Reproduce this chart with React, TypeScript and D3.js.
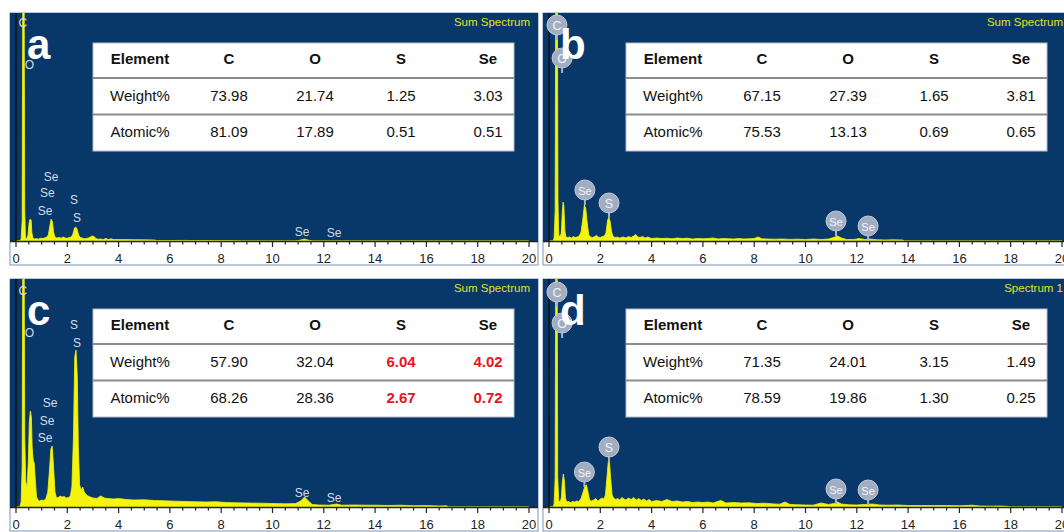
import React from "react";
import * as d3 from "d3";

// EDS spectra: [energy keV, counts]
const spectrumA: [number, number][] = [
  [0, 0], [0.15, 0], [0.2, 20], [0.24, 200], [0.27, 3200], [0.31, 3200], [0.34, 300], [0.37, 30], [0.42, 25],
  [0.47, 60], [0.51, 180], [0.55, 220], [0.59, 210], [0.62, 80], [0.66, 30], [0.72, 20], [0.8, 25], [0.88, 18],
  [0.95, 28], [1.02, 25], [1.1, 30], [1.18, 35], [1.26, 60], [1.32, 150], [1.37, 220], [1.42, 190], [1.47, 80],
  [1.53, 35], [1.6, 30], [1.68, 35], [1.76, 28], [1.84, 40], [1.92, 30], [2.0, 28], [2.08, 35], [2.16, 40],
  [2.22, 70], [2.28, 130], [2.33, 140], [2.38, 120], [2.44, 60], [2.5, 35], [2.58, 30], [2.66, 22], [2.74, 25],
  [2.82, 30], [2.9, 40], [2.97, 50], [3.04, 45], [3.12, 25], [3.2, 18], [3.3, 20], [3.4, 15], [3.5, 25], [3.6, 15],
  [3.7, 22], [3.8, 15], [3.9, 14], [4.2, 14], [4.6, 13], [5.0, 12], [5.4, 10], [5.5, 4], [6, 5], [6.5, 6], [7, 4],
  [7.5, 5], [8, 4], [8.6, 3], [8.8, 0], [10.9, 0], [11.1, 10], [11.25, 20], [11.4, 8], [11.6, 0], [20, 0],
];

const spectrumB: [number, number][] = [
  [0, 0], [0.15, 0], [0.2, 30], [0.24, 300], [0.27, 3200], [0.32, 3200], [0.35, 400], [0.38, 60], [0.43, 40],
  [0.48, 80], [0.52, 300], [0.55, 390], [0.58, 350], [0.62, 100], [0.66, 40], [0.72, 35], [0.8, 40], [0.88, 30],
  [0.95, 45], [1.02, 35], [1.1, 40], [1.18, 50], [1.25, 90], [1.32, 220], [1.38, 360], [1.43, 330], [1.49, 180],
  [1.55, 60], [1.62, 40], [1.7, 35], [1.78, 45], [1.86, 55], [1.92, 40], [2.0, 35], [2.08, 45], [2.16, 50],
  [2.22, 80], [2.28, 200], [2.33, 240], [2.38, 200], [2.44, 90], [2.5, 45], [2.58, 35], [2.66, 40], [2.74, 30],
  [2.82, 35], [2.9, 40], [3.0, 30], [3.1, 45], [3.2, 35], [3.3, 50], [3.38, 65], [3.46, 40], [3.55, 35],
  [3.65, 45], [3.75, 30], [3.85, 40], [4.0, 25], [4.2, 30], [4.4, 25], [4.6, 28], [4.8, 22], [5.0, 30], [5.2, 25],
  [5.4, 28], [5.6, 20], [5.8, 25], [6.0, 22], [6.2, 25], [6.4, 30], [6.6, 20], [6.8, 25], [7.0, 22], [7.2, 20],
  [7.4, 25], [7.6, 20], [7.8, 22], [8.0, 25], [8.15, 40], [8.3, 22], [8.5, 20], [8.8, 18], [9.1, 20], [9.4, 16],
  [9.7, 18], [10, 15], [10.3, 20], [10.6, 15], [10.9, 20], [11.1, 35], [11.25, 50], [11.4, 30], [11.6, 15],
  [11.9, 15], [12.1, 25], [12.3, 15], [12.5, 20], [12.8, 12], [13.1, 10], [13.4, 12], [13.8, 10], [13.85, 0],
  [14.8, 0], [14.85, 6], [14.9, 0], [20, 0],
];

const spectrumC: [number, number][] = [
  [0, 0], [0.15, 0], [0.2, 50], [0.24, 400], [0.27, 3200], [0.31, 3200], [0.34, 700], [0.38, 250], [0.43, 200],
  [0.48, 450], [0.52, 850], [0.56, 960], [0.6, 900], [0.63, 600], [0.67, 470], [0.71, 440], [0.75, 280], [0.8, 100],
  [0.86, 70], [0.92, 60], [1.0, 70], [1.08, 65], [1.16, 80], [1.24, 150], [1.3, 350], [1.36, 580], [1.41, 610],
  [1.46, 420], [1.52, 150], [1.58, 90], [1.65, 95], [1.72, 110], [1.8, 100], [1.88, 105], [1.96, 90], [2.04, 95],
  [2.12, 110], [2.18, 200], [2.24, 700], [2.29, 1500], [2.34, 1570], [2.39, 1300], [2.43, 600], [2.48, 220],
  [2.54, 170], [2.6, 200], [2.66, 150], [2.72, 130], [2.8, 110], [2.9, 100], [3.0, 90], [3.15, 85], [3.3, 110],
  [3.45, 90], [3.6, 85], [3.8, 80], [4.0, 85], [4.3, 75], [4.6, 70], [5.0, 72], [5.4, 65], [5.8, 62], [6.2, 58],
  [6.6, 55], [7.0, 52], [7.4, 50], [7.8, 52], [8.2, 45], [8.6, 42], [9.0, 40], [9.5, 38], [10, 35], [10.5, 32],
  [10.9, 35], [11.1, 60], [11.25, 100], [11.4, 60], [11.55, 25], [11.8, 20], [12.2, 18], [12.5, 30], [12.7, 18],
  [13.2, 20], [13.6, 18], [14, 18], [14.5, 15], [15, 18], [15.5, 12], [16, 14], [16.5, 10], [16.8, 12],
  [16.85, 0], [20, 0],
];

const spectrumD: [number, number][] = [
  [0, 0], [0.15, 0], [0.2, 30], [0.24, 300], [0.27, 3200], [0.31, 3200], [0.34, 300], [0.38, 60], [0.43, 50],
  [0.48, 90], [0.52, 250], [0.56, 330], [0.6, 260], [0.64, 90], [0.69, 50], [0.76, 55], [0.84, 45], [0.92, 55],
  [1.0, 50], [1.08, 60], [1.16, 55], [1.24, 80], [1.32, 140], [1.4, 210], [1.46, 220], [1.52, 150], [1.58, 70],
  [1.66, 60], [1.74, 70], [1.82, 85], [1.9, 60], [1.98, 75], [2.06, 90], [2.14, 80], [2.2, 120], [2.26, 300],
  [2.31, 450], [2.35, 480], [2.4, 300], [2.46, 120], [2.52, 90], [2.6, 75], [2.68, 85], [2.76, 70], [2.84, 95],
  [2.92, 80], [3.0, 70], [3.1, 90], [3.2, 75], [3.3, 95], [3.4, 70], [3.5, 85], [3.6, 65], [3.7, 80], [3.8, 60],
  [3.9, 75], [4.0, 55], [4.2, 65], [4.4, 55], [4.6, 75], [4.8, 55], [5.0, 60], [5.2, 50], [5.4, 55], [5.6, 45],
  [5.8, 50], [6.0, 45], [6.2, 50], [6.4, 40], [6.7, 65], [6.9, 40], [7.2, 45], [7.5, 40], [7.8, 42], [8.1, 35],
  [8.4, 38], [8.8, 30], [9.0, 28], [9.2, 50], [9.4, 25], [9.7, 22], [10, 20], [10.3, 18], [10.6, 40], [10.9, 25],
  [11.1, 35], [11.25, 50], [11.4, 30], [11.7, 22], [12.0, 20], [12.3, 25], [12.6, 30], [12.9, 20], [13.2, 18],
  [13.6, 20], [14, 15], [14.5, 15], [15, 14], [15.5, 15], [16, 12], [16.5, 18], [16.8, 10], [17.2, 8], [17.6, 10],
  [17.9, 6], [18, 0], [20, 0],
];

// Peak markers: [element, energy keV, counts at label]
const labelsA: [string, number, number][] = [
  ["C", 0.27, 2180], ["O", 0.52, 1760], ["Se", 1.37, 640], ["Se", 1.22, 480], ["Se", 1.13, 300],
  ["S", 2.26, 410], ["S", 2.38, 230], ["Se", 11.15, 90], ["Se", 12.4, 80],
];
const labelsC: [string, number, number][] = [
  ["C", 0.27, 2160], ["O", 0.52, 1740], ["S", 2.26, 1820], ["S", 2.38, 1640], ["Se", 1.33, 1040],
  ["Se", 1.21, 860], ["Se", 1.13, 690], ["Se", 11.15, 140], ["Se", 12.4, 90],
];
const badgesB: [string, number, number][] = [
  ["C", 0.31, 2160], ["O", 0.51, 1830], ["Se", 1.4, 510], ["S", 2.34, 380], ["Se", 11.19, 200], ["Se", 12.44, 150],
];
const badgesD: [string, number, number][] = [
  ["C", 0.31, 2150], ["O", 0.51, 1840], ["Se", 1.38, 350], ["S", 2.34, 600], ["Se", 11.19, 180], ["Se", 12.44, 170],
];

// Quantification tables
const elements = ["C", "O", "S", "Se"];
const weightA = ["73.98", "21.74", "1.25", "3.03"];
const atomicA = ["81.09", "17.89", "0.51", "0.51"];
const weightB = ["67.15", "27.39", "1.65", "3.81"];
const atomicB = ["75.53", "13.13", "0.69", "0.65"];
const weightC = ["57.90", "32.04", "6.04", "4.02"];
const atomicC = ["68.26", "28.36", "2.67", "0.72"];
const weightD = ["71.35", "24.01", "3.15", "1.49"];
const atomicD = ["78.59", "19.86", "1.30", "0.25"];
const highlightC = [false, false, true, true];

const xTicks = d3.range(0, 20.01, 0.5);
const xTickLabels = d3.range(0, 21, 2);

const W = 528;
const H = 228;
const FONT = "'Liberation Sans', Arial, Helvetica, sans-serif";
const BLUE = "#08376a";
const YELLOW = "#f4f40c";

interface PanelProps {
  id: string;
  ox: number;
  oy: number;
  letter: string;
  title: string;
  spectrum: [number, number][];
  labels?: [string, number, number][];
  badges?: [string, number, number][];
  weight: string[];
  atomic: string[];
  highlight?: boolean[];
}

function Panel({ id, ox, oy, letter, title, spectrum, labels, badges, weight, atomic, highlight }: PanelProps) {
  const x = d3.scaleLinear().domain([0, 20]).range([ox + 6, ox + 519]);
  const y = d3.scaleLinear().domain([0, 2280]).range([oy + H, oy]);
  const area = d3
    .area<[number, number]>()
    .x((d) => x(d[0]))
    .y0(y(0))
    .y1((d) => y(d[1]));
  const base = y(0);
  const colX = [ox + 130, ox + 219, ox + 305, ox + 391, ox + 478];
  const rows = [oy + 45, oy + 82, oy + 118];
  return (
    <g>
      <defs>
        <clipPath id={`clip-${id}`}>
          <rect x={ox} y={oy} width={W} height={H} />
        </clipPath>
      </defs>
      <rect x={ox} y={oy} width={W} height={H + 24} fill="#fff" stroke="#7b95bd" strokeWidth={1} />
      <rect x={ox} y={oy} width={W} height={H} fill={BLUE} />
      <g clipPath={`url(#clip-${id})`}>
        <path d={area(spectrum) || ""} fill={YELLOW} stroke={YELLOW} strokeWidth={0.8} />
        <line x1={x(0)} x2={x(0)} y1={oy} y2={base} stroke="#111" strokeWidth={1.4} />
      </g>
      {/* energy axis */}
      <line x1={ox} x2={ox + W} y1={base + 0.5} y2={base + 0.5} stroke="#222" strokeWidth={1.4} />
      {xTicks.map((t) => (
        <line
          key={t}
          x1={x(t)}
          x2={x(t)}
          y1={base}
          y2={base + (t % 2 === 0 ? 6 : 3.5)}
          stroke="#222"
          strokeWidth={1.2}
        />
      ))}
      {xTickLabels.map((t) => (
        <text key={t} x={x(t)} y={base + 22} textAnchor="middle" fontFamily={FONT} fontSize={13} fill="#222">
          {t}
        </text>
      ))}
      <text x={ox + 520} y={oy + 13} textAnchor="end" fontFamily={FONT} fontSize={11.5} fill="#e4e41a">
        {title}
      </text>
      {/* peak annotations */}
      {labels &&
        labels.map(([el, e, c], i) => (
          <text
            key={i}
            x={x(e)}
            y={y(c)}
            textAnchor="middle"
            dominantBaseline="central"
            fontFamily={FONT}
            fontSize={12}
            fill="#d6dbe6"
          >
            {el}
          </text>
        ))}
      {badges &&
        badges.map(([el, e, c], i) => (
          <g key={i}>
            <line x1={x(e)} x2={x(e)} y1={y(c)} y2={y(c) + 15} stroke="#a7b1c4" strokeWidth={2} />
            <circle cx={x(e)} cy={y(c)} r={10} fill="#a2adc1" stroke="#c3cad8" strokeWidth={1} />
            <text
              x={x(e)}
              y={y(c) + 0.5}
              textAnchor="middle"
              dominantBaseline="central"
              fontFamily={FONT}
              fontSize={el.length > 1 ? 11 : 12.5}
              fill="#f2f4f8"
            >
              {el}
            </text>
          </g>
        ))}
      <text x={ox + 17} y={oy + 46} fontFamily={FONT} fontWeight="bold" fontSize={42} fill="#fff">
        {letter}
      </text>
      {/* composition table */}
      <rect x={ox + 83} y={oy + 30} width={421} height={108} fill="#fff" stroke="#b8bcc4" strokeWidth={1} />
      <line x1={ox + 83} x2={ox + 504} y1={oy + 65} y2={oy + 65} stroke="#8c8c8c" strokeWidth={2} />
      <line x1={ox + 83} x2={ox + 504} y1={oy + 101.5} y2={oy + 101.5} stroke="#8c8c8c" strokeWidth={2} />
      {["Element", ...elements].map((h, i) => (
        <text
          key={h}
          x={colX[i]}
          y={rows[0]}
          textAnchor="middle"
          dominantBaseline="central"
          fontFamily={FONT}
          fontWeight="bold"
          fontSize={15}
          fill="#111"
        >
          {h}
        </text>
      ))}
      {[
        ["Weight%", weight],
        ["Atomic%", atomic],
      ].map(([name, vals], r) => (
        <g key={r}>
          <text
            x={colX[0]}
            y={rows[r + 1]}
            textAnchor="middle"
            dominantBaseline="central"
            fontFamily={FONT}
            fontSize={15}
            fill="#111"
          >
            {name as string}
          </text>
          {(vals as string[]).map((v, i) => {
            const hi = highlight ? highlight[i] : false;
            return (
              <text
                key={i}
                x={colX[i + 1]}
                y={rows[r + 1]}
                textAnchor="middle"
                dominantBaseline="central"
                fontFamily={FONT}
                fontSize={15}
                fontWeight={hi ? "bold" : "normal"}
                fill={hi ? "#e8141b" : "#111"}
              >
                {v}
              </text>
            );
          })}
        </g>
      ))}
    </g>
  );
}

export default function App() {
  return (
    <svg
      width={1064}
      height={532}
      viewBox="0 0 1064 532"
      style={{ position: "absolute", left: 0, top: 0, background: "#fff" }}
    >
      <rect width={1064} height={532} fill="#fff" />
      <Panel id="a" ox={10} oy={13} letter="a" title="Sum Spectrum" spectrum={spectrumA} labels={labelsA} weight={weightA} atomic={atomicA} />
      <Panel id="b" ox={543} oy={13} letter="b" title="Sum Spectrum" spectrum={spectrumB} badges={badgesB} weight={weightB} atomic={atomicB} />
      <Panel id="c" ox={10} oy={279} letter="c" title="Sum Spectrum" spectrum={spectrumC} labels={labelsC} weight={weightC} atomic={atomicC} highlight={highlightC} />
      <Panel id="d" ox={543} oy={279} letter="d" title="Spectrum 1" spectrum={spectrumD} badges={badgesD} weight={weightD} atomic={atomicD} />
    </svg>
  );
}
